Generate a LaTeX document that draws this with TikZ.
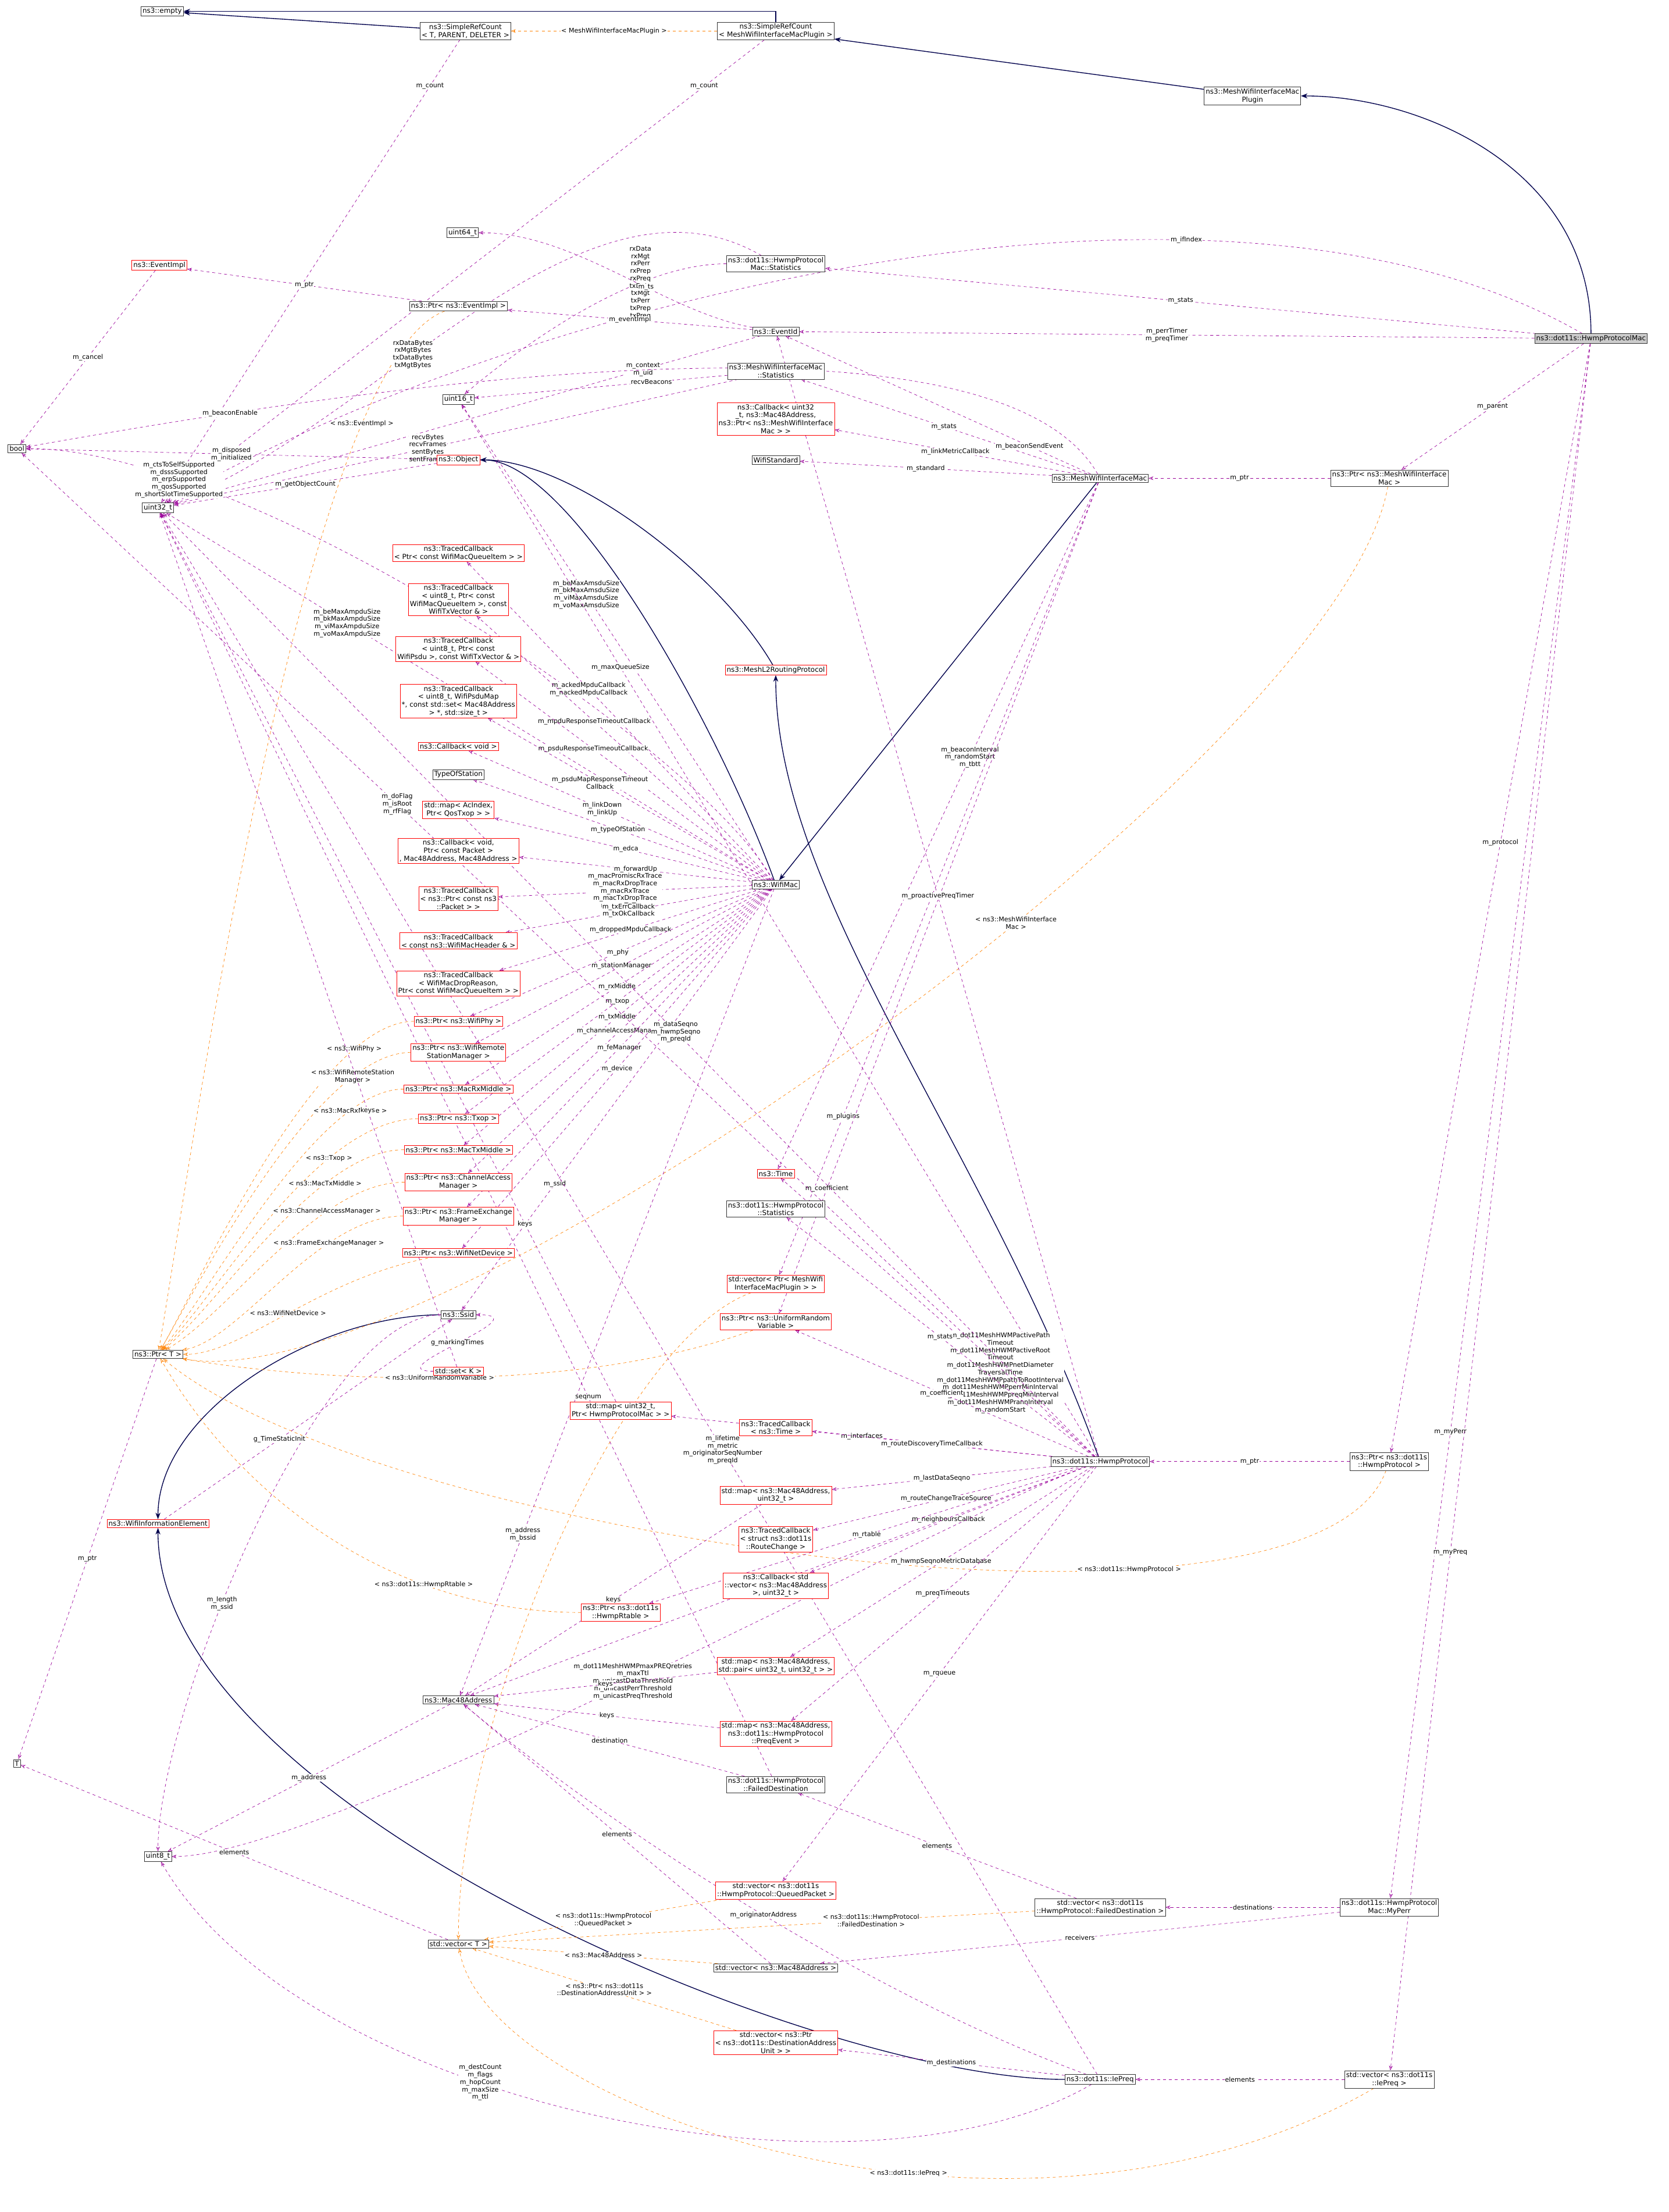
\documentclass[tikz,border=0pt]{standalone}
\usepackage{fontspec}
\setmainfont{DejaVu Sans}
\usetikzlibrary{arrows.meta,backgrounds}

\begin{document}
\begin{tikzpicture}[x=0.05cm,y=0.05cm,font=\fontsize{7}{8}\selectfont]
        \useasboundingbox (0,0) rectangle (1183,-1568);
        \tikzset{
            box/.style={draw=black!80,fill=white,inner sep=1.5pt,align=center},
            rbox/.style={box,draw=red},
            use/.style={draw=violet!80!magenta,dashed,-{Stealth[open]}},
            inh/.style={draw=blue!30!black,thick,-{Stealth}},
            tmpl/.style={draw=orange,dashed,-{Stealth[open]}},
            lbl/.style={fill=white,inner sep=0.5pt,align=center,font=\fontsize{6.5}{7.5}\selectfont}
        }
        \begin{scope}
            \node[box] (empty) at (115,-8) {ns3::empty};
            \node[box] (src1) at (330,-22) {ns3::SimpleRefCount\\< T, PARENT, DELETER >};
            \node[box] (src2) at (550,-22) {ns3::SimpleRefCount\\< MeshWifiInterfaceMacPlugin >};
            \node[box] (plugin) at (888,-68) {ns3::MeshWifiInterfaceMac\\Plugin};
            \node[box,fill=black!20] (hwmpmac) at (1128,-240) {ns3::dot11s::HwmpProtocolMac};
            \node[box] (bool) at (12,-318) {bool};
            \node[box] (uint32) at (112,-360) {uint32\_t};
            \node[box] (uint64) at (328,-165) {uint64\_t};
            \node[rbox] (eventimpl) at (113,-188) {ns3::EventImpl};
            \node[box] (ptrevent) at (325,-217) {ns3::Ptr< ns3::EventImpl >};
            \node[box] (hmstats) at (550,-187) {ns3::dot11s::HwmpProtocol\\Mac::Statistics};
            \node[box] (eventid) at (550,-235) {ns3::EventId};
            \node[box] (mstats) at (550,-263) {ns3::MeshWifiInterfaceMac\\::Statistics};
            \node[box] (uint16) at (325,-283) {uint16\_t};
            \node[rbox] (cbmetric) at (550,-297) {ns3::Callback< uint32\\\_t, ns3::Mac48Address,\\ ns3::Ptr< ns3::MeshWifiInterface\\Mac > >};
            \node[box] (wifistd) at (550,-326) {WifiStandard};
            \node[box] (meshmac) at (780,-339) {ns3::MeshWifiInterfaceMac};
            \node[box] (ptrmeshmac) at (985,-339) {ns3::Ptr< ns3::MeshWifiInterface\\Mac >};
            \node[rbox] (object) at (325,-326) {ns3::Object};
            \node[rbox] (tcacked) at (325,-392) {ns3::TracedCallback\\< Ptr< const WifiMacQueueItem > >};
            \node[rbox] (tcmpdu) at (325,-425) {ns3::TracedCallback\\< uint8\_t, Ptr< const\\ WifiMacQueueItem >, const\\ WifiTxVector \& >};
            \node[rbox] (tcpsdu) at (325,-460) {ns3::TracedCallback\\< uint8\_t, Ptr< const\\ WifiPsdu >, const WifiTxVector \& >};
            \node[rbox] (tcpsdumap) at (325,-497) {ns3::TracedCallback\\< uint8\_t, WifiPsduMap\\ *, const std::set< Mac48Address\\ > *, std::size\_t >};
            \node[rbox] (l2) at (550,-475) {ns3::MeshL2RoutingProtocol};
            \node[rbox] (cbvoid) at (325,-529) {ns3::Callback< void >};
            \node[box] (typesta) at (325,-549) {TypeOfStation};
            \node[rbox] (mapedca) at (325,-574) {std::map< AcIndex,\\ Ptr< QosTxop > >};
            \node[rbox] (cbfwd) at (325,-603) {ns3::Callback< void,\\ Ptr< const Packet >\\, Mac48Address, Mac48Address >};
            \node[rbox] (tcpkt) at (325,-637) {ns3::TracedCallback\\< ns3::Ptr< const ns3\\::Packet > >};
            \node[rbox] (tchdr) at (325,-667) {ns3::TracedCallback\\< const ns3::WifiMacHeader \& >};
            \node[rbox] (tcdrop) at (325,-697) {ns3::TracedCallback\\< WifiMacDropReason,\\ Ptr< const WifiMacQueueItem > >};
            \node[rbox] (ptrphy) at (325,-724) {ns3::Ptr< ns3::WifiPhy >};
            \node[rbox] (ptrrsm) at (325,-746) {ns3::Ptr< ns3::WifiRemote\\StationManager >};
            \node[rbox] (ptrrxm) at (325,-772) {ns3::Ptr< ns3::MacRxMiddle >};
            \node[rbox] (ptrtxop) at (325,-793) {ns3::Ptr< ns3::Txop >};
            \node[rbox] (ptrtxm) at (325,-815) {ns3::Ptr< ns3::MacTxMiddle >};
            \node[rbox] (ptrcam) at (325,-838) {ns3::Ptr< ns3::ChannelAccess\\Manager >};
            \node[rbox] (ptrfem) at (325,-862) {ns3::Ptr< ns3::FrameExchange\\Manager >};
            \node[rbox] (ptrdev) at (325,-888) {ns3::Ptr< ns3::WifiNetDevice >};
            \node[box] (wifimac) at (550,-627) {ns3::WifiMac};
            \node[box] (ssid) at (325,-932) {ns3::Ssid};
            \node[box] (ptrT) at (112,-960) {ns3::Ptr< T >};
            \node[rbox] (setK) at (325,-972) {std::set< K >};
            \node[rbox] (time) at (550,-832) {ns3::Time};
            \node[box] (hstats) at (550,-857) {ns3::dot11s::HwmpProtocol\\::Statistics};
            \node[rbox] (vecplug) at (550,-910) {std::vector< Ptr< MeshWifi\\InterfaceMacPlugin > >};
            \node[rbox] (ptrrand) at (550,-937) {ns3::Ptr< ns3::UniformRandom\\Variable >};
            \node[rbox] (maphmac) at (440,-1000) {std::map< uint32\_t,\\ Ptr< HwmpProtocolMac > >};
            \node[rbox] (tctime) at (550,-1012) {ns3::TracedCallback\\< ns3::Time >};
            \node[box] (hwmp) at (780,-1036) {ns3::dot11s::HwmpProtocol};
            \node[box] (ptrhwmp) at (985,-1036) {ns3::Ptr< ns3::dot11s\\::HwmpProtocol >};
            \node[rbox] (winfo) at (112,-1080) {ns3::WifiInformationElement};
            \node[rbox] (mapseq) at (550,-1060) {std::map< ns3::Mac48Address,\\ uint32\_t >};
            \node[rbox] (tcroute) at (550,-1091) {ns3::TracedCallback\\< struct ns3::dot11s\\::RouteChange >};
            \node[rbox] (cbneigh) at (550,-1124) {ns3::Callback< std\\::vector< ns3::Mac48Address\\ >, uint32\_t >};
            \node[rbox] (ptrrtable) at (440,-1143) {ns3::Ptr< ns3::dot11s\\::HwmpRtable >};
            \node[rbox] (mapmetric) at (550,-1181) {std::map< ns3::Mac48Address,\\ std::pair< uint32\_t, uint32\_t > >};
            \node[box] (mac48) at (325,-1205) {ns3::Mac48Address};
            \node[rbox] (mappreq) at (550,-1229) {std::map< ns3::Mac48Address,\\ ns3::dot11s::HwmpProtocol\\::PreqEvent >};
            \node[box] (failed) at (550,-1265) {ns3::dot11s::HwmpProtocol\\::FailedDestination};
            \node[box] (T) at (12,-1250) {T};
            \node[box] (uint8) at (112,-1316) {uint8\_t};
            \node[rbox] (vecqueued) at (550,-1340) {std::vector< ns3::dot11s\\::HwmpProtocol::QueuedPacket >};
            \node[box] (vecfailed) at (780,-1352) {std::vector< ns3::dot11s\\::HwmpProtocol::FailedDestination >};
            \node[box] (myperr) at (985,-1352) {ns3::dot11s::HwmpProtocol\\Mac::MyPerr};
            \node[box] (vecT) at (325,-1378) {std::vector< T >};
            \node[box] (vecmac) at (550,-1395) {std::vector< ns3::Mac48Address >};
            \node[rbox] (vecdest) at (550,-1448) {std::vector< ns3::Ptr\\< ns3::dot11s::DestinationAddress\\Unit > >};
            \node[box] (iepreq) at (780,-1474) {ns3::dot11s::IePreq};
            \node[box] (veciepreq) at (985,-1474) {std::vector< ns3::dot11s\\::IePreq >};
        \end{scope}
        \begin{pgfonlayer}{background}
        % inheritance
        \begin{scope}
            \draw[inh] (src1) -- (empty);
            \draw[inh] (src2) |- (empty);
            \draw[inh] (plugin) -- (src2);
            \draw[inh] (hwmpmac) .. controls +(90:6cm) and +(0:6cm) .. (plugin);
            \draw[inh] (meshmac) -- (wifimac);
            \draw[inh] (wifimac) .. controls +(110:6cm) and +(0:4cm) .. (object);
            \draw[inh] (l2) .. controls +(120:4cm) and +(0:4cm) .. (object);
            \draw[inh] (hwmp) .. controls +(110:12cm) and +(-90:8cm) .. (l2);
            \draw[inh] (ssid) .. controls +(180:5cm) and +(90:4cm) .. (winfo);
            \draw[inh] (iepreq) .. controls +(180:10cm) and +(-90:10cm) .. (winfo);
        \end{scope}
        % templates
        \begin{scope}
            \draw[tmpl] (src2) -- node[lbl] {< MeshWifiInterfaceMacPlugin >} (src1);
            \draw[tmpl] (ptrevent) .. controls +(200:6cm) and +(80:6cm) .. node[lbl,pos=0.2] {< ns3::EventImpl >} (ptrT);
            \draw[tmpl] (ptrphy) .. controls +(180:5cm) and +(60:3cm) .. node[lbl,pos=0.2] {< ns3::WifiPhy >} (ptrT);
            \draw[tmpl] (ptrrsm) .. controls +(180:5cm) and +(60:3cm) .. node[lbl,pos=0.2] {< ns3::WifiRemoteStation\\Manager >} (ptrT);
            \draw[tmpl] (ptrrxm) .. controls +(180:5cm) and +(50:3cm) .. node[lbl,pos=0.2] {< ns3::MacRxMiddle >} (ptrT);
            \draw[tmpl] (ptrtxop) .. controls +(180:5cm) and +(45:3cm) .. node[lbl,pos=0.3] {< ns3::Txop >} (ptrT);
            \draw[tmpl] (ptrtxm) .. controls +(180:5cm) and +(40:3cm) .. node[lbl,pos=0.3] {< ns3::MacTxMiddle >} (ptrT);
            \draw[tmpl] (ptrcam) .. controls +(180:5cm) and +(30:3cm) .. node[lbl,pos=0.3] {< ns3::ChannelAccessManager >} (ptrT);
            \draw[tmpl] (ptrfem) .. controls +(180:5cm) and +(10:3cm) .. node[lbl,pos=0.3] {< ns3::FrameExchangeManager >} (ptrT);
            \draw[tmpl] (ptrdev) .. controls +(190:5cm) and +(0:3cm) .. node[lbl,pos=0.5] {< ns3::WifiNetDevice >} (ptrT);
            \draw[tmpl] (ptrrand) .. controls +(200:8cm) and +(-10:5cm) .. node[lbl,pos=0.5] {< ns3::UniformRandomVariable >} (ptrT);
            \draw[tmpl] (ptrmeshmac) .. controls +(-100:10cm) and +(-10:10cm) .. node[lbl,pos=0.4] {< ns3::MeshWifiInterface\\Mac >} (ptrT);
            \draw[tmpl] (ptrhwmp) .. controls +(-110:8cm) and +(-40:10cm) .. node[lbl,pos=0.3] {< ns3::dot11s::HwmpProtocol >} (ptrT);
            \draw[tmpl] (ptrrtable) .. controls +(180:8cm) and +(-60:6cm) .. node[lbl,pos=0.3] {< ns3::dot11s::HwmpRtable >} (ptrT);
            \draw[tmpl] (vecqueued) -- node[lbl] {< ns3::dot11s::HwmpProtocol\\::QueuedPacket >} (vecT);
            \draw[tmpl] (vecfailed) -- node[lbl,pos=0.3] {< ns3::dot11s::HwmpProtocol\\::FailedDestination >} (vecT);
            \draw[tmpl] (vecmac) -- node[lbl] {< ns3::Mac48Address >} (vecT);
            \draw[tmpl] (vecdest) -- node[lbl] {< ns3::Ptr< ns3::dot11s\\::DestinationAddressUnit > >} (vecT);
            \draw[tmpl] (veciepreq) .. controls +(-150:15cm) and +(-80:6cm) .. node[lbl,pos=0.4] {< ns3::dot11s::IePreq >} (vecT);
            \draw[tmpl] (vecplug) .. controls +(200:6cm) and +(90:8cm) .. node[lbl,pos=0.3] {< Ptr< MeshWifiInterface\\MacPlugin > >} (vecT);
        \end{scope}
        % members
        \begin{scope}
            \draw[use] (src1) -- node[lbl,pos=0.1] {m\_count} (uint32);
            \draw[use] (src2) -- node[lbl,pos=0.1] {m\_count} (uint32);
            \draw[use] (hwmpmac) .. controls +(150:15cm) and +(30:15cm) .. node[lbl,pos=0.3] {m\_ifIndex} (uint32);
            \draw[use] (hwmpmac) -- node[lbl] {m\_stats} (hmstats);
            \draw[use] (hwmpmac) -- node[lbl] {m\_perrTimer\\m\_preqTimer} (eventid);
            \draw[use] (hwmpmac) -- node[lbl] {m\_parent} (ptrmeshmac);
            \draw[use] (hwmpmac) -- node[lbl,pos=0.45] {m\_protocol} (ptrhwmp);
            \draw[use] (hwmpmac) -- node[lbl,pos=0.7] {m\_myPerr} (myperr);
            \draw[use] (hwmpmac) -- node[lbl,pos=0.7] {m\_myPreq} (veciepreq);
            \draw[use] (hmstats) .. controls +(180:5cm) and +(40:3cm) .. node[lbl,pos=0.3] {rxData\\rxMgt\\rxPerr\\rxPrep\\rxPreq\\txData\\txMgt\\txPerr\\txPrep\\txPreq} (uint16);
            \draw[use] (hmstats) .. controls +(150:8cm) and +(20:8cm) .. node[lbl,pos=0.6] {rxDataBytes\\rxMgtBytes\\txDataBytes\\txMgtBytes} (uint32);
            \draw[use] (eventid) -- node[lbl,pos=0.2] {m\_context\\m\_uid} (uint32);
            \draw[use] (eventid) .. controls +(170:4cm) and +(0:4cm) .. node[lbl,pos=0.4] {m\_ts} (uint64);
            \draw[use] (eventid) -- node[lbl] {m\_eventImpl} (ptrevent);
            \draw[use] (ptrevent) -- node[lbl] {m\_ptr} (eventimpl);
            \draw[use] (eventimpl) -- node[lbl] {m\_cancel} (bool);
            \draw[use] (mstats) -- node[lbl,pos=0.3] {recvBeacons} (uint16);
            \draw[use] (mstats) -- node[lbl,pos=0.55] {recvBytes\\recvFrames\\sentBytes\\sentFrames} (uint32);
            \draw[use] (object) -- node[lbl] {m\_disposed\\m\_initialized} (bool);
            \draw[use] (object) -- node[lbl] {m\_getObjectCount} (uint32);
            \draw[use] (meshmac) -- node[lbl] {m\_stats} (mstats);
            \draw[use] (meshmac) -- node[lbl] {m\_linkMetricCallback} (cbmetric);
            \draw[use] (meshmac) -- node[lbl] {m\_standard} (wifistd);
            \draw[use] (meshmac) -- node[lbl,pos=0.2] {m\_beaconSendEvent} (eventid);
            \draw[use] (meshmac) .. controls +(120:8cm) and +(10:10cm) .. node[lbl,pos=0.8] {m\_beaconEnable} (bool);
            \draw[use] (meshmac) -- node[lbl,pos=0.4] {m\_beaconInterval\\m\_randomStart\\m\_tbtt} (time);
            \draw[use] (meshmac) -- node[lbl,pos=0.8] {m\_plugins} (vecplug);
            \draw[use] (meshmac) -- node[lbl,pos=0.85] {m\_coefficient} (ptrrand);
            \draw[use] (ptrmeshmac) -- node[lbl] {m\_ptr} (meshmac);
            \draw[use] (wifimac) -- node[lbl,pos=0.6] {m\_beMaxAmsduSize\\m\_bkMaxAmsduSize\\m\_viMaxAmsduSize\\m\_voMaxAmsduSize} (uint16);
            \draw[use] (wifimac) -- node[lbl,pos=0.7] {m\_beMaxAmpduSize\\m\_bkMaxAmpduSize\\m\_viMaxAmpduSize\\m\_voMaxAmpduSize} (uint32);
            \draw[use] (wifimac) .. controls +(120:6cm) and +(0:8cm) .. node[lbl,pos=0.8] {m\_ctsToSelfSupported\\m\_dsssSupported\\m\_erpSupported\\m\_qosSupported\\m\_shortSlotTimeSupported} (bool);
            \draw[use] (wifimac) -- node[lbl,pos=0.6] {m\_ackedMpduCallback\\m\_nackedMpduCallback} (tcacked);
            \draw[use] (wifimac) -- node[lbl,pos=0.6] {m\_mpduResponseTimeoutCallback} (tcmpdu);
            \draw[use] (wifimac) -- node[lbl,pos=0.6] {m\_psduResponseTimeoutCallback} (tcpsdu);
            \draw[use] (wifimac) -- node[lbl,pos=0.6] {m\_psduMapResponseTimeout\\Callback} (tcpsdumap);
            \draw[use] (wifimac) -- node[lbl,pos=0.55] {m\_linkDown\\m\_linkUp} (cbvoid);
            \draw[use] (wifimac) -- node[lbl] {m\_typeOfStation} (typesta);
            \draw[use] (wifimac) -- node[lbl] {m\_edca} (mapedca);
            \draw[use] (wifimac) -- node[lbl] {m\_forwardUp} (cbfwd);
            \draw[use] (wifimac) -- node[lbl] {m\_macPromiscRxTrace\\m\_macRxDropTrace\\m\_macRxTrace\\m\_macTxDropTrace\\m\_macTxTrace} (tcpkt);
            \draw[use] (wifimac) -- node[lbl] {m\_txErrCallback\\m\_txOkCallback} (tchdr);
            \draw[use] (wifimac) -- node[lbl] {m\_droppedMpduCallback} (tcdrop);
            \draw[use] (wifimac) -- node[lbl] {m\_phy} (ptrphy);
            \draw[use] (wifimac) -- node[lbl] {m\_stationManager} (ptrrsm);
            \draw[use] (wifimac) -- node[lbl] {m\_rxMiddle} (ptrrxm);
            \draw[use] (wifimac) -- node[lbl] {m\_txop} (ptrtxop);
            \draw[use] (wifimac) -- node[lbl] {m\_txMiddle} (ptrtxm);
            \draw[use] (wifimac) -- node[lbl] {m\_channelAccessManager} (ptrcam);
            \draw[use] (wifimac) -- node[lbl] {m\_feManager} (ptrfem);
            \draw[use] (wifimac) -- node[lbl] {m\_device} (ptrdev);
            \draw[use] (wifimac) -- node[lbl,pos=0.7] {m\_ssid} (ssid);
            \draw[use] (wifimac) -- node[lbl,pos=0.8] {m\_address\\m\_bssid} (mac48);
            \draw[use] (ptrT) -- node[lbl] {m\_ptr} (T);
            \draw[use] (setK) -- node[lbl,pos=0.3] {keys} (uint32);
            \draw[use] (maphmac) -- node[lbl,pos=0.2] {keys} (uint32);
            \draw[use] (hwmp) -- node[lbl] {m\_proactivePreqTimer} (eventid);
            \draw[use] (hwmp) -- node[lbl,pos=0.75] {m\_maxQueueSize} (uint16);
            \draw[use] (hwmp) -- node[lbl,pos=0.3] {m\_dot11MeshHWMPactivePath\\Timeout\\m\_dot11MeshHWMPactiveRoot\\Timeout\\m\_dot11MeshHWMPnetDiameter\\TraversalTime\\m\_dot11MeshHWMPpathToRootInterval\\m\_dot11MeshHWMPperrMinInterval\\m\_dot11MeshHWMPpreqMinInterval\\m\_dot11MeshHWMPrannInterval\\m\_randomStart} (time);
            \draw[use] (hwmp) -- node[lbl] {m\_stats} (hstats);
            \draw[use] (hwmp) -- node[lbl] {m\_coefficient} (ptrrand);
            \draw[use] (hwmp) -- node[lbl] {m\_interfaces} (maphmac);
            \draw[use] (hwmp) -- node[lbl] {m\_routeDiscoveryTimeCallback} (tctime);
            \draw[use] (hwmp) -- node[lbl] {m\_lastDataSeqno} (mapseq);
            \draw[use] (hwmp) -- node[lbl] {m\_routeChangeTraceSource} (tcroute);
            \draw[use] (hwmp) -- node[lbl] {m\_neighboursCallback} (cbneigh);
            \draw[use] (hwmp) -- node[lbl] {m\_rtable} (ptrrtable);
            \draw[use] (hwmp) -- node[lbl] {m\_hwmpSeqnoMetricDatabase} (mapmetric);
            \draw[use] (hwmp) -- node[lbl] {m\_address} (mac48);
            \draw[use] (hwmp) -- node[lbl] {m\_preqTimeouts} (mappreq);
            \draw[use] (hwmp) -- node[lbl] {m\_rqueue} (vecqueued);
            \draw[use] (hwmp) .. controls +(200:6cm) and +(0:6cm) .. node[lbl,pos=0.5] {m\_dot11MeshHWMPmaxPREQretries\\m\_maxTtl\\m\_unicastDataThreshold\\m\_unicastPerrThreshold\\m\_unicastPreqThreshold} (uint8);
            \draw[use] (hwmp) -- node[lbl,pos=0.45] {m\_dataSeqno\\m\_hwmpSeqno\\m\_preqId} (uint32);
            \draw[use] (hwmp) -- node[lbl,pos=0.65] {m\_doFlag\\m\_isRoot\\m\_rfFlag} (bool);
            \draw[use] (ptrhwmp) -- node[lbl] {m\_ptr} (hwmp);
            \draw[use] (mapseq) -- node[lbl] {keys} (mac48);
            \draw[use] (mapmetric) -- node[lbl] {keys} (mac48);
            \draw[use] (mappreq) -- node[lbl] {keys} (mac48);
            \draw[use] (failed) -- node[lbl] {destination} (mac48);
            \draw[use] (failed) -- node[lbl,pos=0.3] {seqnum} (uint32);
            \draw[use] (vecfailed) -- node[lbl] {elements} (failed);
            \draw[use] (myperr) -- node[lbl] {destinations} (vecfailed);
            \draw[use] (myperr) -- node[lbl] {receivers} (vecmac);
            \draw[use] (vecmac) -- node[lbl] {elements} (mac48);
            \draw[use] (vecT) -- node[lbl] {elements} (T);
            \draw[use] (mac48) -- node[lbl] {m\_address} (uint8);
            \draw[use] (ssid) .. controls +(180:5cm) and +(90:5cm) .. node[lbl,pos=0.6] {m\_length\\m\_ssid} (uint8);
            \draw[use] (winfo) -- node[lbl,pos=0.4] {g\_TimeStaticInit} (ssid);
            \draw[use] (setK) .. controls +(180:3cm) and +(0:3cm) .. node[lbl] {g\_markingTimes} (ssid);
            \draw[use] (iepreq) -- node[lbl] {m\_destinations} (vecdest);
            \draw[use] (iepreq) -- node[lbl,pos=0.4] {m\_lifetime\\m\_metric\\m\_originatorSeqNumber\\m\_preqId} (uint32);
            \draw[use] (iepreq) .. controls +(160:8cm) and +(-40:8cm) .. node[lbl,pos=0.5] {m\_originatorAddress} (mac48);
            \draw[use] (iepreq) .. controls +(-150:10cm) and +(-60:10cm) .. node[lbl,pos=0.6] {m\_destCount\\m\_flags\\m\_hopCount\\m\_maxSize\\m\_ttl} (uint8);
            \draw[use] (veciepreq) -- node[lbl] {elements} (iepreq);
        \end{scope}
        \end{pgfonlayer}
    \end{tikzpicture}
\end{document}
